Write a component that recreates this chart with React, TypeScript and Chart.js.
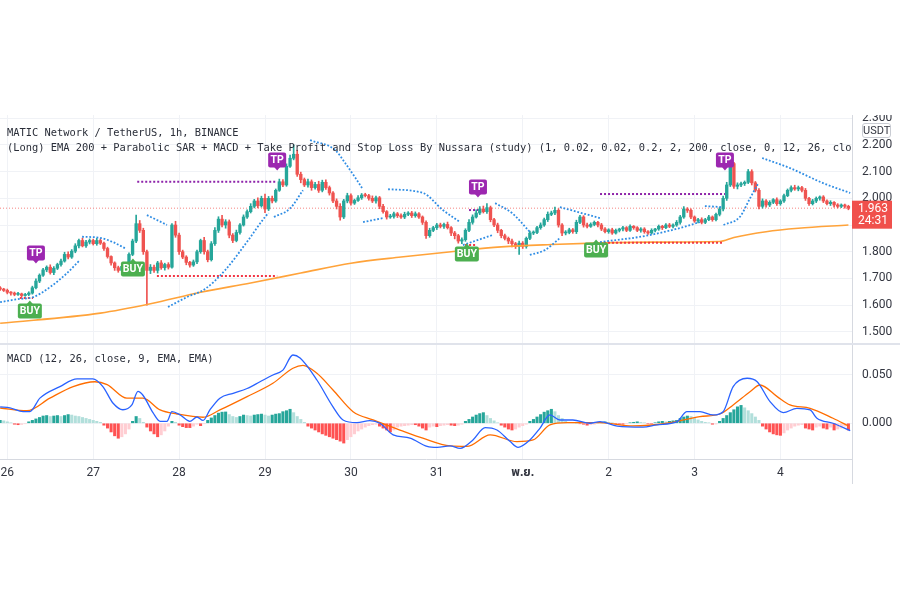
import React, { useEffect, useRef } from "react";
import { Chart, registerables } from "chart.js";
Chart.register(...registerables);

// ---------- DATA ----------
const FIRST_INDEX = -2; // hourly candles, index 0 = 26th 00:00
const firstOpen = 1.665;
const closes = [
  1.660,1.655,1.648,1.645,1.640,1.642,1.636,1.640,1.645,1.665,
  1.690,1.712,1.732,1.742,1.722,1.738,1.752,1.765,1.790,1.780,
  1.802,1.822,1.842,1.822,1.836,1.842,1.830,1.842,1.832,1.812,
  1.782,1.758,1.740,1.730,1.745,1.752,1.790,1.840,1.905,1.880,
  1.800,1.730,1.742,1.730,1.758,1.740,1.752,1.742,1.900,1.862,
  1.800,1.780,1.760,1.750,1.762,1.800,1.842,1.800,1.770,1.830,
  1.880,1.922,1.900,1.912,1.862,1.842,1.872,1.900,1.930,1.950,
  1.970,1.990,1.972,2.000,1.960,2.000,1.990,2.030,2.062,2.050,
  2.120,2.150,2.165,2.090,2.070,2.050,2.062,2.040,2.052,2.030,
  2.060,2.040,2.020,1.990,1.970,1.930,1.990,2.010,1.982,1.992,
  2.002,2.012,2.010,2.000,1.990,2.002,1.970,1.950,1.930,1.932,
  1.942,1.935,1.930,1.940,1.945,1.935,1.942,1.930,1.910,1.860,
  1.880,1.890,1.900,1.895,1.902,1.890,1.870,1.860,1.840,1.845,
  1.880,1.910,1.930,1.945,1.960,1.950,1.965,1.920,1.900,1.880,
  1.860,1.850,1.840,1.830,1.820,1.832,1.820,1.850,1.870,1.872,
  1.890,1.900,1.920,1.940,1.945,1.955,1.900,1.870,1.872,1.882,
  1.875,1.910,1.930,1.900,1.895,1.902,1.910,1.900,1.885,1.875,
  1.882,1.870,1.880,1.885,1.890,1.880,1.895,1.890,1.880,1.885,
  1.875,1.870,1.880,1.885,1.895,1.890,1.900,1.895,1.900,1.910,
  1.930,1.960,1.955,1.930,1.915,1.920,1.910,1.920,1.930,1.920,
  1.940,1.960,2.000,2.050,2.130,2.045,2.050,2.055,2.060,2.100,
  2.058,2.030,1.970,1.990,1.975,1.985,1.995,1.980,1.990,2.010,
  2.030,2.040,2.035,2.040,2.030,2.000,1.980,1.990,2.000,2.005,
  1.990,1.980,1.985,1.975,1.970,1.975,1.970,1.963,
];
// upper / lower wick lengths in thousandths
const wickUp = [
  4,3,5,3,4,6,3,4,5,6, 8,5,6,5,9,6,5,7,8,10, 6,8,5,9,7,6,5,8,6,4,
  5,3,4,6,5,8,6,7,32,12, 8,6,10,8,6,9,5,7,5,14, 8,6,5,4,7,6,5,12,6,8,
  10,9,14,8,7,6,9,5,8,7, 10,6,12,8,16,7,8,5,10,8, 9,12,35,15,8,6,10,7,8,12,
  8,9,6,5,8,10,6,9,7,5, 8,6,7,5,9,6,5,7,4,8, 6,5,7,8,5,6,7,5,4,6,
  8,5,6,7,5,9,4,6,5,7, 6,10,8,12,9,11,15,6,5,7, 4,6,5,7,5,8,6,5,7,6,
  5,8,6,9,7,12,6,5,7,6, 5,8,6,5,7,6,5,4,6,5, 4,6,5,3,5,4,6,3,4,5,
  5,4,6,3,5,4,5,6,4,7, 6,9,5,6,4,5,7,5,6,4, 5,6,8,10,10,5,8,6,5,8,
  7,5,6,8,5,6,4,7,5,6, 5,7,9,6,5,7,4,6,5,4, 5,4,6,3,5,4,3,4,
];
const wickDown = [
  5,4,6,8,5,4,6,3,5,4, 4,6,5,7,6,8,5,6,4,7, 5,6,8,4,6,7,5,6,5,7,
  6,8,10,7,5,6,4,5,6,8, 10,130,12,8,10,6,9,7,4,8, 10,6,9,8,5,7,6,9,8,5,
  6,8,7,12,10,8,5,6,4,5, 5,6,8,5,14,6,7,5,4,6, 5,4,6,8,12,6,8,10,6,8,
  6,7,8,6,10,12,6,7,8,5, 4,6,5,7,6,8,9,6,8,5, 6,7,5,6,5,7,6,5,8,10,
  6,5,7,6,8,5,10,12,8,10, 6,5,7,4,6,5,7,8,6,9, 8,6,10,12,8,30,8,7,5,6,
  4,6,5,7,5,6,8,10,7,5, 6,7,5,8,6,4,5,7,6,5, 6,5,4,6,7,5,4,6,5,7,
  6,5,4,6,5,7,4,5,6,5, 7,5,8,6,5,7,6,5,4,6, 5,6,7,8,6,8,10,6,7,5,
  8,6,10,7,8,6,5,7,6,5, 4,6,5,7,6,8,7,5,6,7, 6,5,7,8,6,5,7,6,
];
// MACD histogram, thousandths, one per candle
const macdHist = [
  3,2.5,1.5,0.5,-1,-1.5,-1.2,-0.5,1.5,3,
  4.5,6,7.5,8,7,7.5,8,7,8,9,
  8.5,7.5,7,6,5,4,3,2,1,-2,
  -5,-9,-13,-15.5,-14,-11,-6,2,7,5,
  1,-4,-8,-11,-14,-12,-8,-3,2,1,
  -2,-3.5,-4.5,-4.5,-3,-1,-2.5,-0.5,3,5.5,
  8,10.5,11.5,11.7,9,7,6,7,8.5,8,
  7.5,8.5,9,9.5,8.5,7.5,8.5,9.5,10,12,
  13,14.5,11,7,4,1,-3,-5,-7,-9,
  -11,-12.5,-14,-15.5,-17,-18.5,-20.5,-17,-14,-11,
  -8,-6,-4,-2.5,-1.5,-1,-3,-5,-7,-9,
  -7,-4,-3,-2.5,-2,-1.5,-1.5,-3,-5,-7,
  -4,-3,-3.5,-2.5,-2,-1.5,-2,-2.5,-2,-1,
  2,4,6.5,8.5,10,11,8,5,2.5,0.5,
  -2,-4,-6,-7,-6,-4,-2.5,-1,2,4,
  6.5,9,11.5,13,14.5,12,8,5,2,1,
  0.5,0,-0.5,-1,-2,-1.5,-1,0.5,1,1.5,
  1,0.5,-0.5,-1,-1,-0.5,0.5,1,1.5,1,
  0.5,-0.5,-0.5,0.5,1.5,2,1.5,2,2.5,3,
  5,6.5,7.5,7,5,3.5,2,1,0.5,-1,
  -0.8,2,5,8,11,14,17,18.5,16,13,
  10,6.5,3,-3,-6,-9,-11,-12,-12.5,-10,
  -7,-5,-3,-2,-1.5,-5,-6,-7,-4,-3,
  -5,-6,-4,-7,-6,-5,-3,-7,
];
// EMA 200 (candle index, price)
const ema200: [number, number][] = [
  [-2, 1.532], [26, 1.570], [40, 1.605], [54, 1.648], [68, 1.683], [82, 1.720],
  [96, 1.757], [110, 1.780], [124, 1.800], [138, 1.818], [152, 1.827], [166, 1.833],
  [180, 1.836], [199, 1.838], [203, 1.853], [212, 1.875], [221, 1.888], [235, 1.900],
];
// Parabolic SAR segments (candle index, price)
const sarSegments: [number, number][][] = [
  [[-2, 1.611], [2.7, 1.622], [7.2, 1.630], [12, 1.668], [16.7, 1.720], [20.3, 1.769]],
  [[20.9, 1.856], [25.9, 1.852], [29.5, 1.836], [32.9, 1.813]],
  [[39, 1.937], [41.8, 1.919], [44.6, 1.900]],
  [[44.9, 1.593], [50.2, 1.630], [55.2, 1.660], [60.8, 1.730], [67.3, 1.843], [72, 1.930], [73, 1.945]],
  [[74.5, 1.930], [79, 1.962], [82.6, 2.030]],
  [[84.6, 2.218], [91.6, 2.181], [94.4, 2.132], [97.1, 2.080], [99.1, 2.039]],
  [[99.4, 1.911], [105, 1.926]],
  [[106.4, 2.034], [116.1, 2.020], [121.7, 1.956], [126.5, 1.911]],
  [[127.3, 1.825], [135.7, 1.863]],
  [[136.3, 1.982], [141, 1.945], [146, 1.874]],
  [[146, 1.788], [150.2, 1.806], [154.4, 1.851]],
  [[154.4, 1.967], [165.6, 1.926]],
  [[165.6, 1.836], [178.2, 1.859], [188, 1.889], [193.5, 1.911]],
  [[194.9, 1.971], [199.7, 1.967]],
  [[200.1, 1.900], [204.7, 1.931], [207.5, 2.000], [209.8, 2.056]],
  [[210.9, 2.151], [218.7, 2.113], [227.9, 2.057], [235.5, 2.020]],
];
// take-profit and stop-loss levels: [from index, to index, price]
const tpLevels: [number, number, number][] = [
  [36.3, 75.4, 2.062], [129, 131.5, 1.956], [165.6, 200.5, 2.016],
];
const slLevels: [number, number, number][] = [
  [3.5, 7.2, 1.627], [41.8, 75.4, 1.709], [127.9, 131.2, 1.825], [165.6, 200, 1.834],
];
// signal tags: [candle index, price]
const buySignals: [number, number][] = [[6.3, 1.578], [35.1, 1.735], [128.4, 1.791], [164.5, 1.806]];
const tpSignals: [number, number][] = [[8.0, 1.795], [75.4, 2.143], [131.5, 2.042], [200.5, 2.143]];
// MACD & signal lines (candle index, value)
const macdLine: [number, number][] = [
  [-2, 0.017], [0.75, 0.016], [4.4, 0.012], [6.3, 0.012], [9.1, 0.026], [14.7, 0.038], [19.5, 0.046],
  [23.9, 0.046], [26.7, 0.038], [29.5, 0.021], [32.3, 0.014], [34.8, 0.019], [36.5, 0.033], [37.9, 0.029],
  [40.7, 0.011], [42.7, 0.002], [44.6, 0.002], [46, 0.012], [48.3, 0.0086], [51, 0.002], [53, 0.0065],
  [54.7, 0.003], [56.6, 0.0138], [59.4, 0.026], [63.1, 0.031], [67, 0.036], [70.6, 0.043], [74.2, 0.050],
  [77, 0.055], [79.8, 0.0707], [81.8, 0.0675], [86.5, 0.0448], [91, 0.017], [93.8, 0.0034], [97.7, 0.0006],
  [101.3, 0.0027], [104.1, 0], [107.8, -0.012], [112.5, -0.0153], [117.3, -0.024], [120.1, -0.025],
  [123.7, -0.0235], [126.5, -0.026], [130.1, -0.0173], [133.5, -0.0045], [136.8, -0.007], [140.5, -0.019],
  [142.7, -0.0249], [146, -0.0173], [148.8, -0.0052], [151.6, 0.0086], [154.4, 0.0034], [158, 0.0034],
  [162.8, 0], [165.6, 0.0017], [170.4, -0.003], [177.6, -0.004], [181.5, -0.0017], [187.1, 0.0017],
  [189.9, 0.012], [193.5, 0.012], [197.2, 0.0086], [200, 0.012], [202.8, 0.038], [206.7, 0.0466],
  [209.5, 0.043], [213.1, 0.0224], [216.8, 0.011], [220.6, 0.0155], [224.3, 0.0138], [226.2, 0.0052],
  [230.7, 0], [235.5, -0.0077],
];
const signalLine: [number, number][] = [
  [-2, 0.0158], [5.5, 0.013], [11.9, 0.026], [18.4, 0.038], [24.5, 0.043], [27.9, 0.040], [33.4, 0.026],
  [37.9, 0.026], [42.7, 0.0138], [47.4, 0.0096], [54.7, 0.0062], [59.4, 0.0138], [67, 0.0276],
  [74.2, 0.0414], [79.8, 0.057], [82.6, 0.060], [86.5, 0.0517], [91, 0.0345], [96.6, 0.012],
  [102.2, 0.0034], [109.7, -0.007], [116.1, -0.0155], [123.7, -0.0235], [128.4, -0.024], [134.9, -0.012],
  [142.4, -0.019], [146.9, -0.0173], [151.6, -0.0017], [156.4, 0.0007], [165.6, 0.0007], [174.8, -0.0028],
  [184.3, 0], [193.5, 0.0069], [199.1, 0.0096], [202.8, 0.019], [207.5, 0.0327], [210.3, 0.0396],
  [215.1, 0.0276], [218.7, 0.019], [224.3, 0.0155], [230.7, 0.0052], [235, -0.0028],
];
const dayLabels = ["26", "27", "28", "29", "30", "31", "พ.ย.", "2", "3", "4"];
const monthTick = 6;
const lastPrice = 1.963;
const countdown = "24:31";
const titleLine1 = "MATIC Network / TetherUS, 1h, BINANCE";
const titleLine2 = "(Long) EMA 200 + Parabolic SAR + MACD + Take Profit and Stop Loss By Nussara (study) (1, 0.02, 0.02, 0.2, 2, 200, close, 0, 12, 26, close, 9)";
const macdTitle = "MACD (12, 26, close, 9, EMA, EMA)";

// ---------- STYLE / LAYOUT ----------
const X_MIN = -2.04;
const X_MAX = 236.0;
const PRICE_MIN = 1.4581;
const PRICE_MAX = 2.312;
const MACD_MIN = -0.037;
const MACD_MAX = 0.0831;
const UP = "#26a69a";
const DOWN = "#ef5350";
const GRID = "#f0f2f6";
const AXIS_TEXT = "#333640";
const AXIS_FONT = { family: "Roboto, 'Noto Sans', sans-serif", size: 12 };

const candles = closes.map((c, k) => {
  const o = k === 0 ? firstOpen : closes[k - 1];
  return {
    i: FIRST_INDEX + k,
    o,
    c,
    h: Math.max(o, c) + (wickUp[k] ?? 4) / 1000,
    l: Math.min(o, c) - (wickDown[k] ?? 4) / 1000,
  };
});

const pts = (a: [number, number][]) => a.map(([x, y]) => ({ x, y }));

function roundRect(ctx: CanvasRenderingContext2D, x: number, y: number, w: number, h: number, r: number) {
  ctx.beginPath();
  ctx.moveTo(x + r, y);
  ctx.lineTo(x + w - r, y);
  ctx.quadraticCurveTo(x + w, y, x + w, y + r);
  ctx.lineTo(x + w, y + h - r);
  ctx.quadraticCurveTo(x + w, y + h, x + w - r, y + h);
  ctx.lineTo(x + r, y + h);
  ctx.quadraticCurveTo(x, y + h, x, y + h - r);
  ctx.lineTo(x, y + r);
  ctx.quadraticCurveTo(x, y, x + r, y);
  ctx.closePath();
}

function drawTag(ctx: CanvasRenderingContext2D, cx: number, cy: number, text: string, color: string, pointerUp: boolean) {
  const w = text.length === 3 ? 24 : 18;
  const h = 15;
  const x = cx - w / 2;
  const y = cy - h / 2;
  ctx.fillStyle = color;
  roundRect(ctx, x, y, w, h, 2);
  ctx.fill();
  ctx.beginPath();
  if (pointerUp) {
    ctx.moveTo(cx - 3, y + 0.5);
    ctx.lineTo(cx + 3, y + 0.5);
    ctx.lineTo(cx, y - 3);
  } else {
    ctx.moveTo(cx - 3, y + h - 0.5);
    ctx.lineTo(cx + 3, y + h - 0.5);
    ctx.lineTo(cx, y + h + 3);
  }
  ctx.closePath();
  ctx.fill();
  ctx.fillStyle = "#ffffff";
  ctx.font = "bold 10.5px Roboto, 'Noto Sans', sans-serif";
  ctx.textAlign = "center";
  ctx.textBaseline = "middle";
  ctx.fillText(text, cx, cy + 0.5);
}

const priceExtras = {
  id: "priceExtras",
  afterDatasetsDraw(chart: any) {
    const { ctx, scales } = chart;
    const x = scales.x;
    const y = scales.y;
    ctx.save();
    for (const [i, p] of buySignals) drawTag(ctx, x.getPixelForValue(i), y.getPixelForValue(p), "BUY", "#4caf50", true);
    for (const [i, p] of tpSignals) drawTag(ctx, x.getPixelForValue(i), y.getPixelForValue(p), "TP", "#9c27b0", false);
    ctx.restore();
  },
  afterDraw(chart: any) {
    const { ctx, chartArea, scales } = chart;
    const py = scales.y.getPixelForValue(lastPrice);
    ctx.save();
    ctx.fillStyle = "#f0504c";
    ctx.fillRect(chartArea.right, py - 7.5, 40, 28);
    ctx.fillStyle = "#ffffff";
    ctx.font = "12px Roboto, 'Noto Sans', sans-serif";
    ctx.textAlign = "center";
    ctx.textBaseline = "middle";
    ctx.fillText(lastPrice.toFixed(3), chartArea.right + 21, py + 1);
    ctx.fillText(countdown, chartArea.right + 21, py + 13);
    ctx.restore();
  },
};

const macdExtras = {
  id: "macdExtras",
  afterDraw(chart: any) {
    const { ctx, chartArea } = chart;
    ctx.save();
    ctx.strokeStyle = "#e0e3eb";
    ctx.lineWidth = 2;
    ctx.beginPath();
    ctx.moveTo(0, chartArea.top + 1);
    ctx.lineTo(chart.width, chartArea.top + 1);
    ctx.stroke();
    ctx.lineWidth = 1;
    ctx.strokeStyle = "#d6d9e0";
    ctx.beginPath();
    ctx.moveTo(chartArea.right + 0.5, chartArea.bottom);
    ctx.lineTo(chartArea.right + 0.5, chart.height - 1);
    ctx.stroke();
    ctx.restore();
  },
};

function zeroPad(s: any) {
  s.paddingTop = 0;
  s.paddingBottom = 0;
  s.paddingLeft = 0;
  s.paddingRight = 0;
}

function priceConfig(): any {
  const colors = candles.map((d) => (d.c >= d.o ? UP : DOWN));
  const datasets: any[] = [
    {
      type: "bar",
      data: candles.map((d) => ({ x: d.i, y: [d.o, d.c] })),
      backgroundColor: colors,
      barThickness: 2.7,
      minBarLength: 1,
      grouped: false,
      order: 3,
    },
    {
      type: "bar",
      data: candles.map((d) => ({ x: d.i, y: [d.l, d.h] })),
      backgroundColor: colors,
      barThickness: 1,
      grouped: false,
      order: 4,
    },
    {
      type: "line",
      data: pts(ema200),
      borderColor: "#ffa33a",
      borderWidth: 1.6,
      pointRadius: 0,
      cubicInterpolationMode: "monotone",
      order: 2,
    },
    {
      type: "line",
      data: [{ x: X_MIN, y: lastPrice }, { x: X_MAX, y: lastPrice }],
      borderColor: "rgba(242,80,76,0.7)",
      borderWidth: 1,
      borderDash: [1, 2],
      pointRadius: 0,
      order: 5,
    },
  ];
  for (const seg of sarSegments) {
    datasets.push({
      type: "line",
      data: pts(seg),
      borderColor: "#2f8de4",
      borderWidth: 1.8,
      borderDash: [1.8, 1.8],
      pointRadius: 0,
      cubicInterpolationMode: "monotone",
      order: 1,
    });
  }
  for (const [a, b, p] of tpLevels) {
    datasets.push({
      type: "line",
      data: [{ x: a, y: p }, { x: b, y: p }],
      borderColor: "#8e24aa",
      borderWidth: 2,
      borderDash: [2, 2],
      pointRadius: 0,
      order: 1,
    });
  }
  for (const [a, b, p] of slLevels) {
    datasets.push({
      type: "line",
      data: [{ x: a, y: p }, { x: b, y: p }],
      borderColor: "#f23645",
      borderWidth: 2,
      borderDash: [2, 2],
      pointRadius: 0,
      order: 1,
    });
  }
  return {
    type: "bar",
    data: { datasets },
    options: {
      responsive: false,
      maintainAspectRatio: false,
      animation: false,
      layout: { padding: 0 },
      plugins: { legend: { display: false }, tooltip: { enabled: false } },
      scales: {
        x: {
          type: "linear",
          min: X_MIN,
          max: X_MAX,
          offset: false,
          ticks: { display: false, stepSize: 24, includeBounds: false },
          grid: { color: GRID, drawTicks: false, offset: false },
          border: { display: false },
          afterFit: (s: any) => {
            s.height = 0;
            zeroPad(s);
          },
        },
        y: {
          position: "right",
          min: PRICE_MIN,
          max: PRICE_MAX,
          ticks: {
            stepSize: 0.1,
            includeBounds: false,
            padding: 10,
            color: AXIS_TEXT,
            font: AXIS_FONT,
            callback: (v: number) => v.toFixed(3),
          },
          grid: { color: GRID, drawTicks: false },
          border: { color: "#d6d9e0" },
          afterFit: (s: any) => {
            s.width = 48;
            zeroPad(s);
          },
        },
      },
    },
    plugins: [priceExtras],
  };
}

function macdConfig(): any {
  const vals = macdHist.map((v) => v / 1000);
  const colors = vals.map((v, k) => {
    const prev = k === 0 ? v : vals[k - 1];
    if (v >= 0) return v >= prev ? "#26a69a" : "#b2dfdb";
    return v <= prev ? "#ff5252" : "#ffcdd2";
  });
  return {
    type: "bar",
    data: {
      datasets: [
        {
          type: "line",
          data: pts(macdLine),
          borderColor: "#2962ff",
          borderWidth: 1.3,
          pointRadius: 0,
          cubicInterpolationMode: "monotone",
          order: 1,
        },
        {
          type: "line",
          data: pts(signalLine),
          borderColor: "#ff6d00",
          borderWidth: 1.3,
          pointRadius: 0,
          cubicInterpolationMode: "monotone",
          order: 2,
        },
        {
          type: "bar",
          data: vals.map((v, k) => ({ x: FIRST_INDEX + k, y: v })),
          backgroundColor: colors,
          barThickness: 2.4,
          grouped: false,
          order: 3,
        },
      ],
    },
    options: {
      responsive: false,
      maintainAspectRatio: false,
      animation: false,
      layout: { padding: 0 },
      plugins: { legend: { display: false }, tooltip: { enabled: false } },
      scales: {
        x: {
          type: "linear",
          min: X_MIN,
          max: X_MAX,
          offset: false,
          ticks: {
            stepSize: 24,
            includeBounds: false,
            autoSkip: false,
            maxRotation: 0,
            padding: 7,
            color: AXIS_TEXT,
            font: (c: any) => {
              const idx = c.tick ? Math.round(c.tick.value / 24) : -1;
              return idx === monthTick
                ? { family: "'Noto Sans Thai', Roboto, 'Noto Sans', sans-serif", size: 12, weight: "bold" }
                : AXIS_FONT;
            },
            callback: (v: number) => dayLabels[Math.round(v / 24)] ?? "",
          },
          grid: { color: GRID, drawTicks: false, offset: false },
          border: { color: "#d6d9e0" },
          afterFit: (s: any) => {
            s.height = 26;
            zeroPad(s);
          },
        },
        y: {
          position: "right",
          min: MACD_MIN,
          max: MACD_MAX,
          ticks: {
            stepSize: 0.05,
            includeBounds: false,
            padding: 10,
            color: AXIS_TEXT,
            font: AXIS_FONT,
            callback: (v: number) => v.toFixed(3),
          },
          grid: { color: GRID, drawTicks: false },
          border: { color: "#d6d9e0" },
          afterFit: (s: any) => {
            s.width = 48;
            zeroPad(s);
          },
        },
      },
    },
    plugins: [macdExtras],
  };
}

const monoText = (top: number, width: number): React.CSSProperties => ({
  position: "absolute",
  left: 7,
  top,
  width,
  height: 13,
  lineHeight: "13px",
  fontFamily: "'DejaVu Sans Mono', monospace",
  fontSize: "10.4px",
  color: "#2a2e39",
  whiteSpace: "nowrap",
  overflow: "hidden",
  pointerEvents: "none",
});

export default function App() {
  const priceRef = useRef<HTMLCanvasElement>(null);
  const macdRef = useRef<HTMLCanvasElement>(null);
  useEffect(() => {
    const c1 = new Chart(priceRef.current as HTMLCanvasElement, priceConfig());
    const c2 = new Chart(macdRef.current as HTMLCanvasElement, macdConfig());
    return () => {
      c1.destroy();
      c2.destroy();
    };
  }, []);
  return (
    <div style={{ position: "absolute", left: 0, top: 0, width: 900, height: 600, background: "#fff", overflow: "hidden" }}>
      <canvas ref={priceRef} width={900} height={228} style={{ position: "absolute", left: 0, top: 115 }} />
      <canvas ref={macdRef} width={900} height={142} style={{ position: "absolute", left: 0, top: 343 }} />
      <div style={monoText(126, 250)}>{titleLine1}</div>
      <div style={monoText(141, 844)}>{titleLine2}</div>
      <div style={monoText(352, 300)}>{macdTitle}</div>
      <div
        style={{
          position: "absolute",
          left: 862,
          top: 123,
          width: 27,
          height: 13,
          lineHeight: "13px",
          border: "1px solid #c9ccd3",
          borderRadius: 3,
          background: "#fff",
          fontFamily: "Roboto, 'Noto Sans', sans-serif",
          fontSize: "11px",
          color: AXIS_TEXT,
          textAlign: "center",
        }}
      >
        USDT
      </div>
    </div>
  );
}
